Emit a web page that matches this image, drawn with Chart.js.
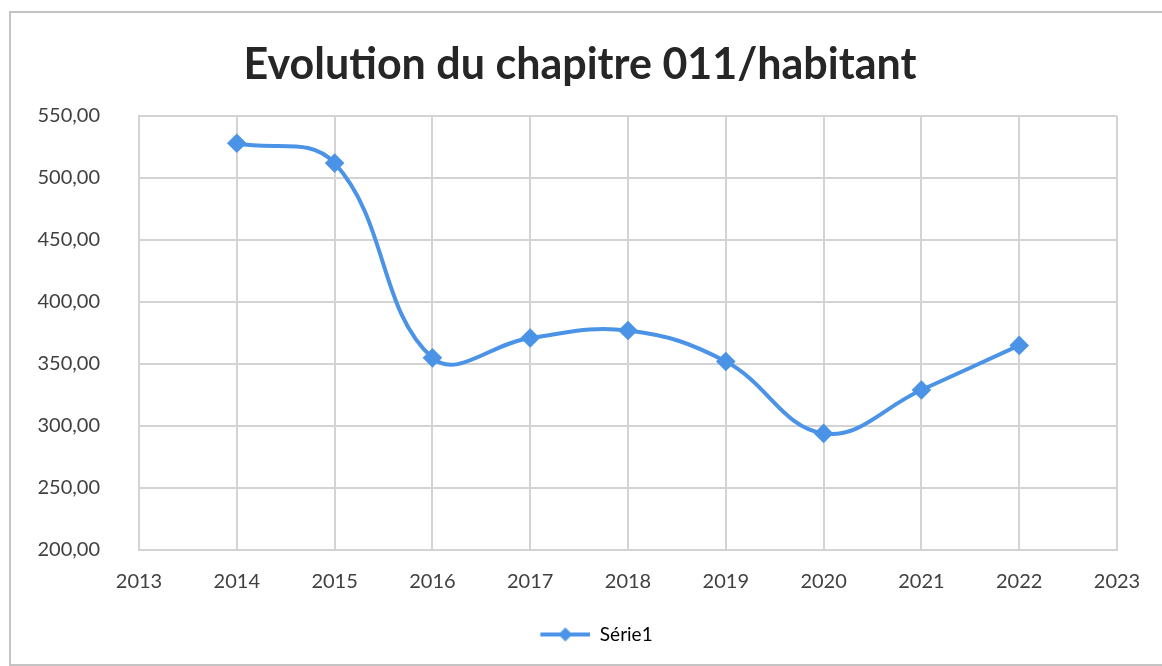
<!DOCTYPE html>
<html>
<head>
<meta charset="utf-8">
<script src="https://cdn.jsdelivr.net/npm/chart.js@4/dist/chart.umd.min.js"></script>
<style>
  html, body { margin: 0; padding: 0; background: #fff; }
  canvas { display: block; }
</style>
</head>
<body>
<canvas id="chart" width="1162" height="666"></canvas>
<script>
const years = [2014, 2015, 2016, 2017, 2018, 2019, 2020, 2021, 2022];
const values = [528, 512, 355, 371, 377, 352, 294, 329, 365];
const seriesName = 'Série1';
const chartTitle = 'Evolution du chapitre 011/habitant';

const blue = '#4a93e6';

// legend marker: short line with a diamond in the middle
// (blank space on the left pushes the legend a bit to the right, like the original)
const markShift = 76;
const legendMark = document.createElement('canvas');
legendMark.width = 50 + markShift;
legendMark.height = 16;
(function () {
  const c = legendMark.getContext('2d');
  c.strokeStyle = blue;
  c.lineWidth = 4;
  c.beginPath();
  c.moveTo(markShift, 8);
  c.lineTo(markShift + 50, 8);
  c.stroke();
  c.fillStyle = blue;
  c.beginPath();
  c.moveTo(markShift + 25, 1);
  c.lineTo(markShift + 32, 8);
  c.lineTo(markShift + 25, 15);
  c.lineTo(markShift + 18, 8);
  c.closePath();
  c.fill();
})();

// white background, outer frame and the title (centred on the whole page like in Excel)
const frame = {
  id: 'frame',
  beforeDraw(chart) {
    const ctx = chart.ctx;
    ctx.save();
    ctx.fillStyle = '#fff';
    ctx.fillRect(0, 0, chart.width, chart.height);
    ctx.strokeStyle = '#c4c4c4';
    ctx.lineWidth = 2;
    ctx.strokeRect(10, 12, chart.width + 20, chart.height - 13);
    ctx.fillStyle = '#262626';
    ctx.font = 'bold 43px Lato';
    ctx.textAlign = 'center';
    ctx.textBaseline = 'middle';
    ctx.fillText(chartTitle, 580, 65);
    ctx.restore();
  }
};

new Chart(document.getElementById('chart'), {
  type: 'line',
  data: {
    datasets: [{
      label: seriesName,
      data: years.map((y, i) => ({ x: y, y: values[i] })),
      borderColor: blue,
      backgroundColor: blue,
      borderWidth: 4,
      tension: 0.4,
      pointStyle: 'rectRot',
      pointRadius: 7,
      pointBackgroundColor: blue,
      pointBorderColor: blue
    }]
  },
  options: {
    responsive: false,
    animation: false,
    layout: { padding: { left: 0, right: 45, top: 116, bottom: 12 } },
    scales: {
      x: {
        type: 'linear',
        min: 2013,
        max: 2023,
        ticks: {
          stepSize: 1,
          padding: 20,
          color: '#404040',
          font: { family: 'Lato', size: 20 },
          callback: v => String(v)
        },
        grid: { color: '#d3d3d3', lineWidth: 2, drawTicks: false },
        border: { color: '#d3d3d3', width: 2 },
        afterFit: s => { s.height = 65; }
      },
      y: {
        min: 200,
        max: 550,
        ticks: {
          stepSize: 50,
          padding: 39,
          color: '#404040',
          font: { family: 'Lato', size: 20 },
          callback: v => v.toFixed(2).replace('.', ',')
        },
        grid: { color: '#d3d3d3', lineWidth: 2, drawTicks: false },
        border: { color: '#d3d3d3', width: 2 },
        afterFit: s => { s.width = 139; }
      }
    },
    plugins: {
      title: { display: false },
      legend: {
        position: 'bottom',
        labels: {
          usePointStyle: true,
          pointStyleWidth: 50 + markShift,
          padding: 10,
          color: '#404040',
          font: { family: 'Lato', size: 19 },
          generateLabels: chart => [{
            text: seriesName,
            pointStyle: legendMark,
            fillStyle: blue,
            strokeStyle: blue,
            lineWidth: 0,
            datasetIndex: 0
          }]
        }
      },
      tooltip: { enabled: false }
    }
  },
  plugins: [frame]
});
</script>
</body>
</html>
